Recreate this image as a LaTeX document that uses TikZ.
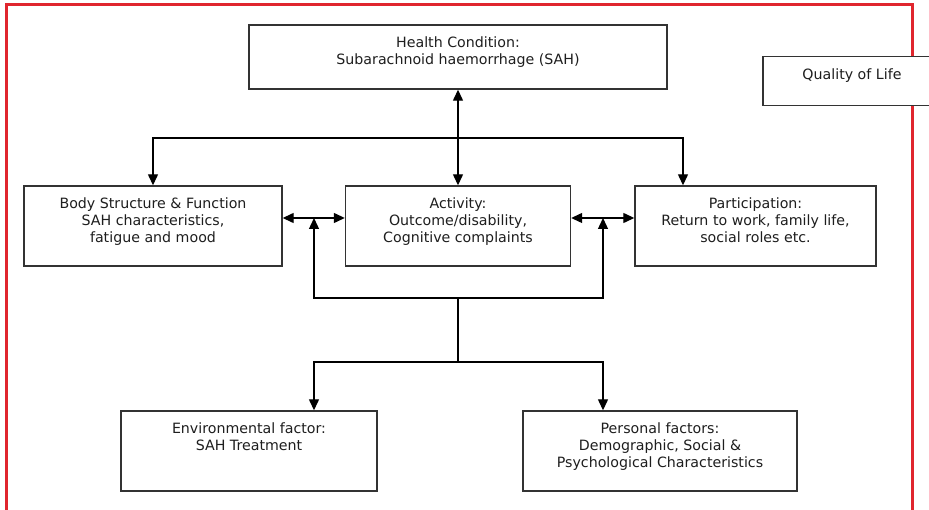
\documentclass[tikz,border=0pt]{standalone}
\usepackage{fontspec}
\setmainfont{DejaVu Sans}
\usetikzlibrary{arrows.meta}
\definecolor{frame}{HTML}{E0262E}
\definecolor{ink}{HTML}{1E1E1E}
\definecolor{edge}{HTML}{333333}
\begin{document}
\begin{tikzpicture}[x=1pt,y=-1pt,
  box/.style={draw=edge,line width=1.4pt,fill=white,rectangle,inner sep=0pt},
  txt/.style={anchor=north,align=center,inner sep=0pt,text=ink,
    font=\fontsize{14.2}{17}\selectfont},
  conn/.style={draw=black,line width=1.3pt},
  tip/.style={-{Triangle[length=11pt,width=10pt]}},
  tips/.style={{Triangle[length=11pt,width=10pt]}-{Triangle[length=11pt,width=10pt]}}]
\useasboundingbox (0,0) rectangle (929,510);
\begin{scope}
\clip (0,0) rectangle (929,510);
% outer red frame, open at the bottom
\draw[frame,line width=3pt] (6,520) -- (6,5) -- (912,5) -- (912,520);

% boxes
\node[box,minimum width=418pt,minimum height=64pt] (hc) at (458,57) {};
\node[box,minimum width=178pt,minimum height=49pt] (qol) at (852,81) {};
\node[box,minimum width=258pt,minimum height=80pt] (body) at (153,226) {};
\node[box,minimum width=225pt,minimum height=80pt] (act) at (458,226) {};
\node[box,minimum width=241pt,minimum height=80pt] (part) at (755.5,226) {};
\node[box,minimum width=256pt,minimum height=80pt] (env) at (249,451) {};
\node[box,minimum width=274pt,minimum height=80pt] (pers) at (660,451) {};
\end{scope}

% box texts
\node[txt] (hct) at ([yshift=-12pt]hc.north) {Health Condition:\\Subarachnoid haemorrhage (SAH)};
\node[txt] (qolt) at (852,69) {Quality of Life};
\node[txt] (bodyt) at ([yshift=-12pt]body.north) {Body Structure \& Function\\SAH characteristics,\\fatigue and mood};
\node[txt] (actt) at ([yshift=-12pt]act.north) {Activity:\\Outcome/disability,\\Cognitive complaints};
\node[txt] (partt) at ([yshift=-12pt]part.north) {Participation:\\Return to work, family life,\\social roles etc.};
\node[txt] (envt) at ([yshift=-12pt]env.north) {Environmental factor:\\SAH Treatment};
\node[txt] (perst) at ([yshift=-12pt]pers.north) {Personal factors:\\Demographic, Social \&\\Psychological Characteristics};

% junction points
\coordinate (topj) at (458,138);
\coordinate (lmid) at (314,218);
\coordinate (rmid) at (603,218);
\coordinate (loopl) at (314,298);
\coordinate (loopr) at (603,298);
\coordinate (loopm) at (458,298);
\coordinate (lowj) at (458,362);
\coordinate (lowl) at (314,362);
\coordinate (lowr) at (603,362);

% health condition links
\draw[conn,tips] (hc.south) -- (act.north);
\draw[conn,tip] (topj) -| (body.north);
\draw[conn,tip] (topj) -| (part.north west -| 683,0);

% links between the middle row
\draw[conn,tips] (body.east |- lmid) -- (act.west |- lmid);
\draw[conn,tips] (act.east |- rmid) -- (part.west |- rmid);

% contextual factors feeding back
\draw[conn,tip] (loopm) -- (loopl) -- (lmid);
\draw[conn,tip] (loopm) -- (loopr) -- (rmid);
\draw[conn] (loopm) -- (lowj);
\draw[conn,tip] (lowj) -- (lowl) -- (env.north -| lowl);
\draw[conn,tip] (lowj) -- (lowr) -- (pers.north -| lowr);
\end{tikzpicture}
\end{document}
